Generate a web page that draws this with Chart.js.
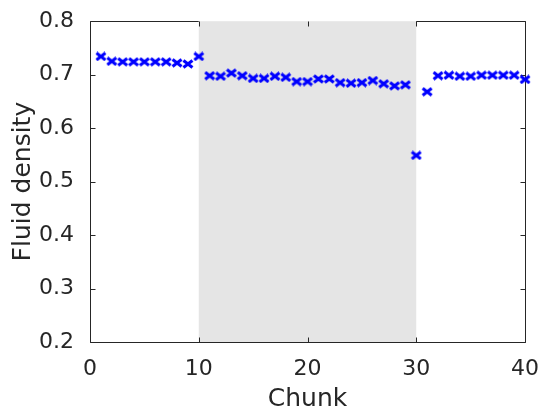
<!DOCTYPE html>
<html>
<head>
<meta charset="utf-8">
<script src="https://cdn.jsdelivr.net/npm/chart.js@4"></script>
<style>
  html, body { margin: 0; padding: 0; background: #ffffff; }
  #wrap { width: 545px; height: 414px; position: relative; }
</style>
</head>
<body>
<div id="wrap"><canvas id="chart" width="545" height="414"></canvas></div>
<script>
// Chunk index along the run
const chunks = [1, 2, 3, 4, 5, 6, 7, 8, 9, 10,
                11, 12, 13, 14, 15, 16, 17, 18, 19, 20,
                21, 22, 23, 24, 25, 26, 27, 28, 29, 30,
                31, 32, 33, 34, 35, 36, 37, 38, 39, 40];

// Mean fluid density per chunk
const density = [0.734, 0.725, 0.724, 0.724, 0.724, 0.724, 0.724, 0.722, 0.720, 0.734,
                 0.698, 0.697, 0.703, 0.698, 0.693, 0.693, 0.697, 0.695, 0.687, 0.687,
                 0.692, 0.692, 0.685, 0.684, 0.685, 0.689, 0.683, 0.679, 0.681, 0.549,
                 0.668, 0.698, 0.699, 0.697, 0.697, 0.699, 0.699, 0.699, 0.699, 0.691];

// Shaded chunk range
const shadeRange = [10, 30];

// Axis ticks
const xTicks = [0, 10, 20, 30, 40];
const yTicks = [0.2, 0.3, 0.4, 0.5, 0.6, 0.7, 0.8];

const TEXT = '#262626';
const FONT = 'DejaVu Sans';

// Thick blue "x" marker
function makeMarker() {
  const c = document.createElement('canvas');
  c.width = 12; c.height = 10;
  const g = c.getContext('2d');
  g.strokeStyle = '#0000ff';
  g.lineWidth = 3;
  g.lineCap = 'butt';
  g.beginPath();
  g.moveTo(1.5, 1.5); g.lineTo(10.5, 8.5);
  g.moveTo(1.5, 8.5); g.lineTo(10.5, 1.5);
  g.stroke();
  return c;
}

// Background band plus a full box with inward ticks
const framePlugin = {
  id: 'frame',
  beforeDatasetsDraw(chart) {
    const { ctx, chartArea: a, scales: { x, y } } = chart;
    ctx.save();
    ctx.fillStyle = '#e5e5e5';
    const x0 = x.getPixelForValue(shadeRange[0]);
    const x1 = x.getPixelForValue(shadeRange[1]);
    ctx.fillRect(x0, a.top, x1 - x0, a.bottom - a.top);

    ctx.strokeStyle = TEXT;
    ctx.lineWidth = 1;
    const L = Math.round(a.left) + 0.5, T = Math.round(a.top) + 0.5;
    const R = Math.round(a.right) + 0.5, B = Math.round(a.bottom) + 0.5;
    ctx.beginPath();
    // left, bottom and right edges; top edge left open across the band
    ctx.moveTo(L, T); ctx.lineTo(L, B); ctx.lineTo(R, B); ctx.lineTo(R, T);
    ctx.moveTo(L, T); ctx.lineTo(x0, T);
    ctx.moveTo(x1, T); ctx.lineTo(R, T);
    ctx.stroke();

    const tl = 5;
    ctx.beginPath();
    xTicks.forEach(v => {
      const px = Math.round(x.getPixelForValue(v)) + 0.5;
      ctx.moveTo(px, B); ctx.lineTo(px, B - tl);
      ctx.moveTo(px, T); ctx.lineTo(px, T + tl);
    });
    yTicks.forEach(v => {
      const py = Math.round(y.getPixelForValue(v)) + 0.5;
      ctx.moveTo(L, py); ctx.lineTo(L + tl, py);
      ctx.moveTo(R, py); ctx.lineTo(R - tl, py);
    });
    ctx.stroke();
    ctx.restore();
  }
};

const points = chunks.map((c, i) => ({ x: c, y: density[i] }));

new Chart(document.getElementById('chart'), {
  type: 'scatter',
  data: {
    datasets: [{
      data: points,
      pointStyle: makeMarker(),
      pointRadius: 5,
      pointHoverRadius: 5,
      clip: false
    }]
  },
  plugins: [framePlugin],
  options: {
    responsive: false,
    animation: false,
    events: [],
    layout: { padding: { top: 20, right: 16, left: 0, bottom: 0 } },
    plugins: { legend: { display: false }, tooltip: { enabled: false } },
    scales: {
      x: {
        type: 'linear',
        min: 0, max: 40,
        afterFit(s) { s.height = 72; },
        afterBuildTicks(s) { s.ticks = xTicks.map(v => ({ value: v })); },
        grid: { display: false },
        border: { display: false },
        ticks: {
          color: TEXT, padding: 6,
          font: { family: FONT, size: 22 },
          maxRotation: 0,
          callback: v => String(v)
        },
        title: {
          display: true, text: 'Chunk', color: TEXT,
          font: { family: FONT, size: 25 },
          padding: { top: 0, bottom: 0 }
        }
      },
      y: {
        min: 0.2, max: 0.8,
        afterFit(s) { s.width = 90; },
        afterBuildTicks(s) { s.ticks = yTicks.map(v => ({ value: v })); },
        grid: { display: false },
        border: { display: false },
        ticks: {
          color: TEXT, padding: 8,
          font: { family: FONT, size: 22 },
          callback: v => v.toFixed(1)
        },
        title: {
          display: true, text: 'Fluid density', color: TEXT,
          font: { family: FONT, size: 25 },
          padding: { top: 8, bottom: 0 }
        }
      }
    }
  }
});
</script>
</body>
</html>
